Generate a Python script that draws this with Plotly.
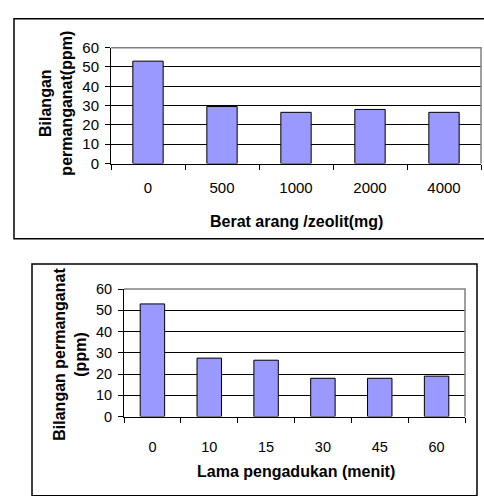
import plotly.graph_objects as go

W, H = 484, 496

# Data
cat1 = ["0", "500", "1000", "2000", "4000"]
val1 = [53, 29.5, 26.5, 28, 26.5]
cat2 = ["0", "10", "15", "30", "45", "60"]
val2 = [53, 27.5, 26.5, 18, 18, 19]
ytitle1 = "Bilangan<br>permanganat(ppm)"
xtitle1 = "Berat arang /zeolit(mg)"
ytitle2 = "Bilangan permanganat<br>(ppm)"
xtitle2 = "Lama pengadukan (menit)"

FONT = "Liberation Sans, Arial, sans-serif"
BAR = "#9999FF"


def px(x):
    return x / W


def py(y):
    return 1 - y / H


fig = go.Figure()
fig.add_trace(go.Bar(x=cat1, y=val1, width=0.41, marker=dict(color=BAR, line=dict(color="black", width=1)),
                     xaxis="x", yaxis="y", showlegend=False))
fig.add_trace(go.Bar(x=cat2, y=val2, width=0.43, marker=dict(color=BAR, line=dict(color="black", width=1)),
                     xaxis="x2", yaxis="y2", showlegend=False))

common_x = dict(type="category", showgrid=False, showline=True, linecolor="black", linewidth=1,
                ticks="outside", tickson="boundaries", ticklen=5, tickcolor="black",
                zeroline=False, fixedrange=True)
common_y = dict(range=[0, 60], dtick=10, showgrid=True, gridcolor="black", gridwidth=1,
                showline=True, linecolor="black", linewidth=1, ticks="outside", ticklen=5,
                tickcolor="black", zeroline=False, ticklabelstandoff=3)

fig.update_layout(
    width=W, height=H, margin=dict(l=0, r=0, t=0, b=0),
    paper_bgcolor="white", plot_bgcolor="white",
    font=dict(family=FONT, color="black"),
    xaxis=dict(domain=[px(111), px(481)], anchor="y", range=[-0.5, 4.5],
               tickfont=dict(size=15, family=FONT), ticklabelstandoff=10, **common_x),
    yaxis=dict(domain=[py(160), py(40)], anchor="x", tickfont=dict(size=15, family=FONT), **common_y),
    xaxis2=dict(domain=[px(124), px(465)], anchor="y2", range=[-0.5, 5.5],
                tickfont=dict(size=14.5, family=FONT), ticklabelstandoff=17, **common_x),
    yaxis2=dict(domain=[py(422), py(290)], anchor="x2", tickfont=dict(size=14.5, family=FONT), **common_y),
)

shapes = [
    # outer chart borders
    dict(type="rect", xref="paper", yref="paper", x0=px(14), x1=px(492), y0=py(238), y1=py(10),
         line=dict(color="black", width=1.5), layer="above"),
    dict(type="rect", xref="paper", yref="paper", x0=px(32), x1=px(477), y0=py(504), y1=py(264),
         line=dict(color="black", width=1.5), layer="above"),
    # plot area top/right gray borders
    dict(type="path", xref="paper", yref="paper",
         path=f"M {px(111)} {py(40)} L {px(481)} {py(40)} L {px(481)} {py(160)}",
         line=dict(color="#808080", width=1.5), layer="above"),
    dict(type="path", xref="paper", yref="paper",
         path=f"M {px(124)} {py(290)} L {px(465)} {py(290)} L {px(465)} {py(422)}",
         line=dict(color="#808080", width=1.5), layer="above"),
]
fig.update_layout(shapes=shapes)

ann = [
    dict(text=f"<b>{ytitle1}</b>", x=px(56), y=py(98), textangle=-90, font=dict(size=16, family=FONT)),
    dict(text=f"<b>{xtitle1}</b>", x=px(296), y=py(220), font=dict(size=16, family=FONT)),
    dict(text=f"<b>{ytitle2}</b>", x=px(70), y=py(358), textangle=-90, font=dict(size=16, family=FONT)),
    dict(text=f"<b>{xtitle2}</b>", x=px(296), y=py(479), font=dict(size=16, family=FONT)),
]
for a in ann:
    a.update(xref="paper", yref="paper", showarrow=False, xanchor="center", yanchor="middle")
fig.update_layout(annotations=ann)

fig.write_html("out.html")
